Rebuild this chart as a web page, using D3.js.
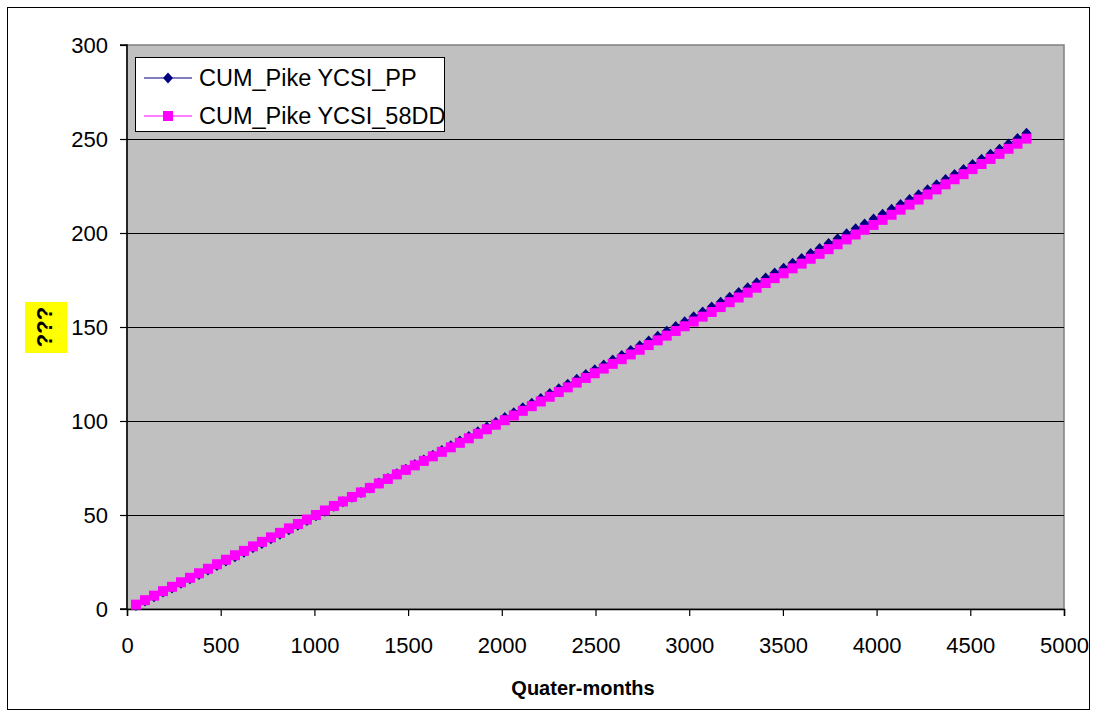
<!DOCTYPE html>
<html>
<head>
<meta charset="utf-8">
<script src="https://cdn.jsdelivr.net/npm/d3@7"></script>
<style>
  html, body { margin: 0; padding: 0; background: #ffffff; }
  svg { display: block; }
  text { font-family: Arial, "Liberation Sans", sans-serif; }
</style>
</head>
<body>
<svg id="chart" width="1094" height="719"></svg>
<script>
// ---------- data ----------
const xValues = [48,96,144,192,240,288,336,384,432,480,528,576,624,672,720,768,816,864,912,960,
  1008,1056,1104,1152,1200,1248,1296,1344,1392,1440,1488,1536,1584,1632,1680,1728,1776,1824,1872,1920,
  1968,2016,2064,2112,2160,2208,2256,2304,2352,2400,2448,2496,2544,2592,2640,2688,2736,2784,2832,2880,
  2928,2976,3024,3072,3120,3168,3216,3264,3312,3360,3408,3456,3504,3552,3600,3648,3696,3744,3792,3840,
  3888,3936,3984,4032,4080,4128,4176,4224,4272,4320,4368,4416,4464,4512,4560,4608,4656,4704,4752,4800];

const seriesPP = [1.8,4.3,6.5,9.0,11.2,13.7,16.1,18.3,20.8,23.1,25.5,27.8,30.2,32.6,34.9,37.4,39.7,42.2,44.6,47.1,
  49.6,52.0,54.6,57.1,59.5,62.0,64.4,67.0,69.4,71.9,74.3,76.9,79.3,81.8,84.3,86.8,89.3,91.7,94.3,96.8,
  99.4,101.9,104.4,107.0,109.5,112.0,114.6,117.1,119.6,122.2,124.7,127.3,129.8,132.4,134.9,137.5,140.0,142.6,145.1,147.7,
  150.3,152.8,155.4,158.0,160.6,163.2,165.8,168.3,170.9,173.5,176.1,178.7,181.3,183.9,186.5,189.1,191.7,194.4,197.0,199.6,
  202.2,204.8,207.4,210.0,212.6,215.2,217.8,220.4,223.0,225.7,228.4,231.1,233.8,236.5,239.2,241.9,244.6,247.4,250.2,253.0];

const series58DD = [2.3,4.7,7.1,9.5,11.8,14.2,16.6,19.0,21.4,23.8,26.2,28.6,30.9,33.3,35.7,38.1,40.5,42.9,45.2,47.6,
  50.0,52.4,54.8,57.2,59.6,62.0,64.4,66.8,69.2,71.6,74.0,76.4,78.8,81.2,83.6,86.0,88.4,90.8,93.2,95.6,
  98.0,100.4,102.9,105.4,107.9,110.4,112.9,115.4,117.9,120.4,122.9,125.4,127.9,130.4,132.9,135.4,137.9,140.4,142.9,145.4,
  147.9,150.4,152.9,155.5,158.0,160.6,163.2,165.7,168.3,170.9,173.4,176.0,178.6,181.2,183.7,186.3,188.9,191.4,194.0,196.6,
  199.2,201.7,204.3,207.0,209.7,212.4,215.1,217.8,220.5,223.2,225.9,228.6,231.3,234.0,236.7,239.4,242.1,244.8,247.5,250.2];

const seriesNames = ["CUM_Pike YCSI_PP", "CUM_Pike YCSI_58DD"];
const seriesColors = ["#000080", "#FF00FF"];
const xTicks = [0,500,1000,1500,2000,2500,3000,3500,4000,4500,5000];
const yTicks = [0,50,100,150,200,250,300];
const xTitle = "Quater-months";
const yTitle = "???";

// ---------- layout ----------
const svg = d3.select("#chart");
const L = 127, R = 1064, T = 45, B = 609;
const x = d3.scaleLinear().domain([0, 5000]).range([L, R]);
const y = d3.scaleLinear().domain([0, 300]).range([B, T]);

// outer border
svg.append("rect").attr("x", 7.5).attr("y", 7.5).attr("width", 1082).attr("height", 702)
  .attr("fill", "#fff").attr("stroke", "#000").attr("stroke-width", 1);

// plot area
svg.append("rect").attr("x", L).attr("y", T).attr("width", R - L).attr("height", B - T)
  .attr("fill", "#C0C0C0").attr("stroke", "#808080").attr("stroke-width", 1.5);

// gridlines
svg.append("g").selectAll("line").data(yTicks.filter(d => d > 0 && d < 300)).join("line")
  .attr("x1", L).attr("x2", R)
  .attr("y1", d => Math.round(y(d)) + 0.5).attr("y2", d => Math.round(y(d)) + 0.5)
  .attr("stroke", "#000").attr("stroke-width", 1.2);

// axes
const yAxis = d3.axisLeft(y).tickValues(yTicks).tickSize(7).tickPadding(12).tickFormat(d3.format("d"));
const gy = svg.append("g").attr("transform", `translate(${L},0)`).call(yAxis);
const xAxis = d3.axisBottom(x).tickValues(xTicks).tickSize(7).tickPadding(21).tickFormat(d3.format("d"));
const gx = svg.append("g").attr("transform", `translate(0,${B})`).call(xAxis);
[gx, gy].forEach(g => {
  g.select(".domain").attr("stroke", "#000").attr("stroke-width", 1.5);
  g.selectAll(".tick line").attr("stroke", "#000").attr("stroke-width", 1.2);
  g.selectAll(".tick text").attr("fill", "#000").style("font-size", "22px")
    .style("font-family", "Arial, 'Liberation Sans', sans-serif");
});
gy.select(".domain").attr("d", `M-7,${T}H0V${B}H-7`);

// series
const datasets = [seriesPP, series58DD].map(vals => xValues.map((xv, i) => ({x: xv, y: vals[i]})));
const line = d3.line().x(d => x(d.x)).y(d => y(d.y));

function drawMarker(sel, idx) {
  if (idx === 0) {
    sel.append("path").attr("d", "M0,-5.5L5,0L0,5.5L-5,0Z").attr("fill", seriesColors[0]);
  } else {
    sel.append("rect").attr("x", -5).attr("y", -5).attr("width", 10).attr("height", 10)
      .attr("fill", seriesColors[1]);
  }
}

datasets.forEach((data, idx) => {
  svg.append("path").datum(data).attr("d", line).attr("fill", "none")
    .attr("stroke", seriesColors[idx]).attr("stroke-width", 1);
  const g = svg.append("g");
  data.forEach(d => {
    const m = g.append("g").attr("transform", `translate(${x(d.x)},${y(d.y)})`);
    drawMarker(m, idx);
  });
});

// legend
const lg = svg.append("g");
lg.append("rect").attr("x", 135.5).attr("y", 57.5).attr("width", 309).attr("height", 74)
  .attr("fill", "#fff").attr("stroke", "#000").attr("stroke-width", 1);
seriesNames.forEach((name, i) => {
  const cy = 78 + i * 38;
  lg.append("line").attr("x1", 144).attr("x2", 192).attr("y1", cy).attr("y2", cy)
    .attr("stroke", seriesColors[i]).attr("stroke-width", 1.2);
  const m = lg.append("g").attr("transform", `translate(168,${cy})`);
  drawMarker(m, i);
  lg.append("text").attr("x", 199).attr("y", cy + 8).attr("font-size", "23.5px").attr("fill", "#000").text(name);
});

// axis titles
svg.append("text").attr("x", 583).attr("y", 695).attr("text-anchor", "middle")
  .attr("font-size", "20px").attr("font-weight", "bold").text(xTitle);

svg.append("rect").attr("x", 25).attr("y", 302).attr("width", 42).attr("height", 51).attr("fill", "#FFFF00");
svg.append("text").attr("transform", "translate(52,327) rotate(-90)").attr("text-anchor", "middle")
  .attr("font-size", "22px").attr("font-weight", "bold").text(yTitle);
</script>
</body>
</html>
